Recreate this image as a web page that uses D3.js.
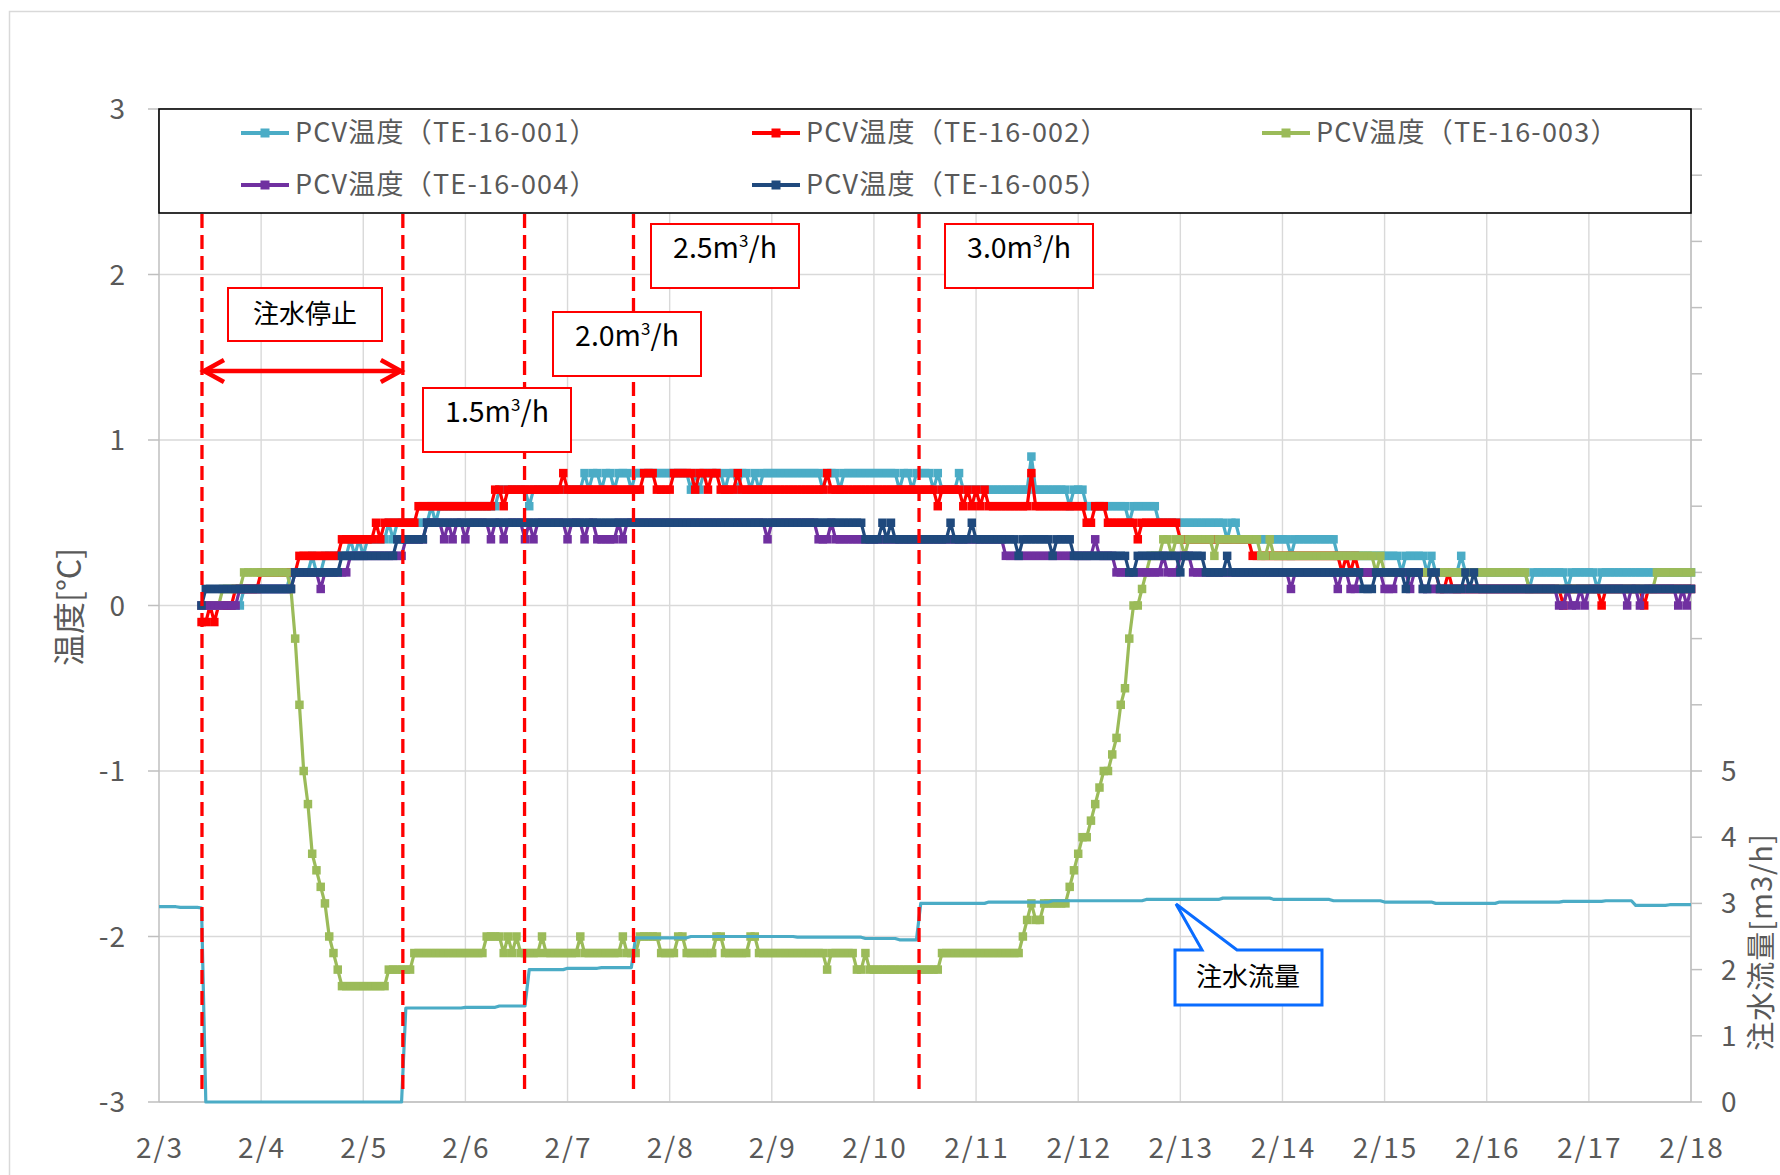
<!DOCTYPE html>
<html><head><meta charset="utf-8">
<script src="https://cdn.jsdelivr.net/npm/d3@7"></script>
<style>
body{margin:0;background:#fff}
svg{display:block}
text{font-family:"Noto Sans CJK JP","Noto Sans",sans-serif}
</style>
</head><body>
<svg id="c" width="1780" height="1175"></svg>
<script>
// ---------------- data (hours counted from 2/3 00:00) ----------------
const dayLabels = ["2/3","2/4","2/5","2/6","2/7","2/8","2/9","2/10","2/11","2/12","2/13","2/14","2/15","2/16","2/17","2/18"];
const leftTicks = [-3,-2,-1,0,1,2,3];
const rightTickLabels = [0,1,2,3,4,5];
const seriesNames = ["PCV温度（TE-16-001）","PCV温度（TE-16-002）","PCV温度（TE-16-003）","PCV温度（TE-16-004）","PCV温度（TE-16-005）"];
const flowName = "注水流量";
const eventHours = [10.1, 57.3, 85.9, 111.5, 178.6];
const rateLabels = ["1.5","2.0","2.5","3.0"];
const lastHour = 360;

// runs: [first hour, value] (value holds until the next run); blips: single-hour readings
const te001Runs = [[10,0],[20,0.1],[31,0.2],[39,0.3],[49,0.4],[56,0.5],[66,0.6],[80,0.7],[102,0.8],[184,0.7],[218,0.6],[235,0.5],[254,0.4],[277,0.3],[300,0.2]];
const te001Blips = [[36,0.3],[45,0.4],[47,0.4],[54,0.5],[64,0.6],[87,0.6],[100,0.8],[104,0.7],[107,0.7],[111,0.7],[125,0.7],[127,0.7],[133,0.7],[136,0.7],[139,0.7],[141,0.7],[156,0.7],[160,0.7],[174,0.7],[177,0.7],[182,0.7],[188,0.8],[205,0.9],[214,0.6],[228,0.5],[251,0.4],[266,0.3],[292,0.2],[298,0.2],[306,0.3],[322,0.1],[331,0.1],[338,0.1]];

const te002Runs = [[10,-0.1],[14,0],[18,0.1],[24,0.2],[33,0.3],[43,0.4],[53,0.5],[61,0.6],[79,0.7],[114,0.8],[117,0.7],[121,0.8],[132,0.7],[195,0.6],[218,0.5],[220,0.6],[223,0.5],[240,0.4],[257,0.3],[282,0.2],[301,0.1]];
const te002Blips = [[12,0],[51,0.5],[81,0.6],[95,0.8],[126,0.7],[129,0.7],[136,0.8],[157,0.8],[183,0.6],[189,0.6],[191,0.6],[193,0.6],[205,0.8],[230,0.4],[278,0.2],[280,0.2],[303,0.2],[330,0],[339,0],[349,0]];

const te003Runs = [[10,0],[15,0.1],[20,0.2],[31,0.1],[32,-0.2],[33,-0.6],[34,-1.0],[35,-1.2],[36,-1.5],[37,-1.6],[38,-1.7],[39,-1.8],[40,-2.0],[41,-2.1],[42,-2.2],[43,-2.3],[54,-2.2],[60,-2.1],[77,-2.0],[85,-2.1],[113,-2.0],[118,-2.1],[122,-2.0],[124,-2.1],[131,-2.0],[133,-2.1],[139,-2.0],[141,-2.1],[164,-2.2],[184,-2.1],[203,-2.0],[204,-1.9],[205,-1.8],[206,-1.9],[208,-1.8],[214,-1.7],[215,-1.6],[216,-1.5],[217,-1.4],[219,-1.3],[220,-1.2],[221,-1.1],[222,-1.0],[224,-0.9],[225,-0.8],[226,-0.6],[227,-0.5],[228,-0.2],[229,0],[231,0.1],[232,0.2],[233,0.3],[236,0.4],[259,0.3],[288,0.2],[322,0.1],[352,0.2]];
const te003Blips = [[81,-2.1],[83,-2.1],[90,-2.0],[99,-2.0],[109,-2.0],[157,-2.2],[166,-2.1],[238,0.3],[241,0.3],[248,0.3],[261,0.4],[286,0.2]];

const te004Runs = [[10,0],[19,0.1],[32,0.2],[45,0.3],[58,0.4],[63,0.5],[155,0.4],[199,0.3],[225,0.2],[297,0.1]];
const te004Blips = [[38,0.1],[67,0.4],[69,0.4],[72,0.4],[78,0.4],[81,0.4],[86,0.4],[88,0.4],[96,0.4],[100,0.4],[103,0.4],[104,0.4],[105,0.4],[106,0.4],[107,0.4],[109,0.4],[143,0.4],[158,0.5],[220,0.4],[236,0.3],[240,0.3],[241,0.3],[242,0.3],[266,0.1],[277,0.1],[280,0.1],[281,0.1],[288,0.1],[289,0.1],[290,0.1],[294,0.1],[329,0],[330,0],[332,0],[333,0],[335,0],[345,0],[348,0],[357,0],[359,0]];

const te005Runs = [[10,0],[11,0.1],[32,0.2],[43,0.3],[56,0.4],[63,0.5],[166,0.4],[215,0.3],[246,0.2],[297,0.1]];
const te005Blips = [[170,0.5],[172,0.5],[186,0.5],[191,0.5],[202,0.3],[210,0.3],[228,0.2],[229,0.2],[240,0.2],[251,0.3],[283,0.1],[284,0.1],[285,0.1],[293,0.1],[299,0.2],[300,0.2],[307,0.2],[309,0.2]];

const flowRuns = [[0,2.95],[5,2.94],[10,2.93],[11,0],[58,1.42],[72,1.43],[80,1.45],[87,2.0],[96,2.02],[104,2.03],[112,2.48],[125,2.5],[150,2.49],[166,2.47],[174,2.45],[179,3.0],[195,3.02],[210,3.04],[232,3.06],[250,3.08],[262,3.06],[276,3.04],[288,3.02],[300,3.0],[315,3.02],[330,3.03],[340,3.04],[347,2.97],[355,2.98]];

const seriesColors = ["#4bacc6","#ff0000","#9bbb59","#7030a0","#1f497d"];
const flowColor = "#4bacc6";

// ---------------- helpers ----------------
function decode(runs, blips, end){
  const over = new Map(blips || []);
  const pts = [];
  runs.forEach((r,i)=>{
    const next = i+1<runs.length ? runs[i+1][0] : end+1;
    for(let h=r[0]; h<next; h++) pts.push([h, over.has(h)?over.get(h):r[1]]);
  });
  return pts;
}
const temps = [
  decode(te001Runs, te001Blips, lastHour),
  decode(te002Runs, te002Blips, lastHour),
  decode(te003Runs, te003Blips, lastHour),
  decode(te004Runs, te004Blips, lastHour),
  decode(te005Runs, te005Blips, lastHour)
];
const flow = decode(flowRuns, [], lastHour);

// ---------------- layout ----------------
const L=159, R=1691, T=109, B=1102;
const svg = d3.select("#c");
const x = d3.scaleLinear().domain([0, 360]).range([L, R]);
const yL = d3.scaleLinear().domain([-3, 3]).range([B, T]);
const yR = d3.scaleLinear().domain([0, 15]).range([B, T]);
const grid="#d9d9d9", axisC="#bfbfbf", txt="#595959";

svg.append("rect").attr("x",9.5).attr("y",11.5).attr("width",1800).attr("height",1200)
  .attr("fill","#fff").attr("stroke","#d9d9d9").attr("stroke-width",1.5);

// gridlines
const gg = svg.append("g");
dayLabels.forEach((d,i)=>{
  if(i===0) return;
  gg.append("line").attr("x1",x(i*24)).attr("x2",x(i*24)).attr("y1",T).attr("y2",B)
    .attr("stroke",grid).attr("stroke-width",1.4);
});
leftTicks.forEach(v=>{
  gg.append("line").attr("x1",L).attr("x2",R).attr("y1",yL(v)).attr("y2",yL(v))
    .attr("stroke",grid).attr("stroke-width",1.4);
});

// axes
const ax = svg.append("g");
ax.append("line").attr("x1",L).attr("x2",L).attr("y1",T).attr("y2",B).attr("stroke",axisC).attr("stroke-width",1.5);
ax.append("line").attr("x1",R).attr("x2",R).attr("y1",T).attr("y2",B).attr("stroke",axisC).attr("stroke-width",1.5);
ax.append("line").attr("x1",L).attr("x2",R).attr("y1",B).attr("y2",B).attr("stroke",axisC).attr("stroke-width",1.5);
leftTicks.forEach(v=>{
  ax.append("line").attr("x1",L-11).attr("x2",L).attr("y1",yL(v)).attr("y2",yL(v)).attr("stroke",axisC).attr("stroke-width",1.5);
  ax.append("text").attr("x",126).attr("y",yL(v)+10).attr("text-anchor","end")
    .attr("font-size",28).attr("letter-spacing",1).attr("fill",txt).text(v);
});
d3.range(0,16).forEach(v=>{
  ax.append("line").attr("x1",R).attr("x2",R+11).attr("y1",yR(v)).attr("y2",yR(v)).attr("stroke",axisC).attr("stroke-width",1.5);
});
rightTickLabels.forEach(v=>{
  ax.append("text").attr("x",1721).attr("y",yR(v)+10).attr("font-size",28).attr("fill",txt).text(v);
});
dayLabels.forEach((d,i)=>{
  ax.append("text").attr("x",x(i*24)+1).attr("y",1158).attr("text-anchor","middle")
    .attr("font-size",28).attr("letter-spacing",2).attr("fill",txt).text(d);
});
ax.append("text").attr("transform","translate(81,607) rotate(-90)").attr("text-anchor","middle")
  .attr("font-size",32).attr("fill",txt).text("温度[°C]");
ax.append("text").attr("transform","translate(1772,942) rotate(-90)").attr("text-anchor","middle")
  .attr("font-size",29).attr("letter-spacing",1).attr("fill",txt).text("注水流量[m3/h]");

// temperature series
const line = d3.line().x(d=>x(d[0])).y(d=>yL(d[1]));
const ms = 8.5;
temps.forEach((pts,i)=>{
  const g = svg.append("g");
  g.append("path").attr("d",line(pts)).attr("fill","none").attr("stroke",seriesColors[i])
    .attr("stroke-width",3.2).attr("stroke-linejoin","round");
  g.selectAll("rect").data(pts).join("rect")
    .attr("x",d=>x(d[0])-ms/2).attr("y",d=>yL(d[1])-ms/2).attr("width",ms).attr("height",ms)
    .attr("fill",seriesColors[i]);
});

// flow series (secondary axis)
const fline = d3.line().x(d=>x(d[0])).y(d=>yR(d[1]));
svg.append("path").attr("d",fline(flow)).attr("fill","none").attr("stroke",flowColor)
  .attr("stroke-width",3.2).attr("stroke-linejoin","round");

// event lines
eventHours.forEach(h=>{
  svg.append("line").attr("x1",x(h)).attr("x2",x(h)).attr("y1",214).attr("y2",1092)
    .attr("stroke","#ff0000").attr("stroke-width",3.3).attr("stroke-dasharray","14,7");
});

// legend
const lg = svg.append("g");
lg.append("rect").attr("x",L).attr("y",T).attr("width",R-L).attr("height",104)
  .attr("fill","#fff").attr("stroke","#000").attr("stroke-width",1.6);
const colX=[241,752,1262], rowY=[133,185];
seriesNames.forEach((n,i)=>{
  const cx = colX[i%3], cy = rowY[Math.floor(i/3)];
  lg.append("line").attr("x1",cx).attr("x2",cx+48).attr("y1",cy).attr("y2",cy)
    .attr("stroke",seriesColors[i]).attr("stroke-width",4);
  lg.append("rect").attr("x",cx+24-4.5).attr("y",cy-4.5).attr("width",9).attr("height",9).attr("fill",seriesColors[i]);
  lg.append("text").attr("x",cx+54).attr("y",cy+9).attr("font-size",27).attr("letter-spacing",1.2).attr("fill",txt).text(n);
});

// annotation boxes
const an = svg.append("g");
function box(x0,y0,w,h){
  an.append("rect").attr("x",x0).attr("y",y0).attr("width",w).attr("height",h)
    .attr("fill","#fff").attr("stroke","#ff0000").attr("stroke-width",2);
}
box(228,288,154,53);
an.append("text").attr("x",305).attr("y",323).attr("text-anchor","middle").attr("font-size",26).attr("fill","#000").text("注水停止");
const rateBoxes = [[423,388],[553,312],[651,224],[945,224]];
rateBoxes.forEach((b,i)=>{
  box(b[0],b[1],148,64);
  const t = an.append("text").attr("x",b[0]+74).attr("y",b[1]+34).attr("text-anchor","middle")
    .attr("font-family","DejaVu Sans").attr("font-size",28.5).attr("fill","#000");
  t.append("tspan").text(rateLabels[i]+"m");
  t.append("tspan").attr("font-size",17).attr("dy",-11).text("3");
  t.append("tspan").attr("dy",11).text("/h");
});
// double arrow for the stop period
const ay = 371, ax0 = x(eventHours[0]), ax1 = x(eventHours[1]);
an.append("line").attr("x1",ax0+2).attr("x2",ax1-2).attr("y1",ay).attr("y2",ay).attr("stroke","#ff0000").attr("stroke-width",4.5);
an.append("path").attr("d",`M${ax0+22},${ay-11} L${ax0+2},${ay} L${ax0+22},${ay+11}`).attr("fill","none").attr("stroke","#ff0000").attr("stroke-width",4.5);
an.append("path").attr("d",`M${ax1-22},${ay-11} L${ax1-2},${ay} L${ax1-22},${ay+11}`).attr("fill","none").attr("stroke","#ff0000").attr("stroke-width",4.5);

// callout for flow
an.append("path").attr("d","M1175,950 L1202,950 L1176,904 L1237,950 L1322,950 L1322,1005 L1175,1005 Z")
  .attr("fill","#fff").attr("stroke","#0a6cff").attr("stroke-width",3);
an.append("text").attr("x",1248).attr("y",986).attr("text-anchor","middle").attr("font-size",26).attr("fill","#000").text(flowName);
</script>
</body></html>
